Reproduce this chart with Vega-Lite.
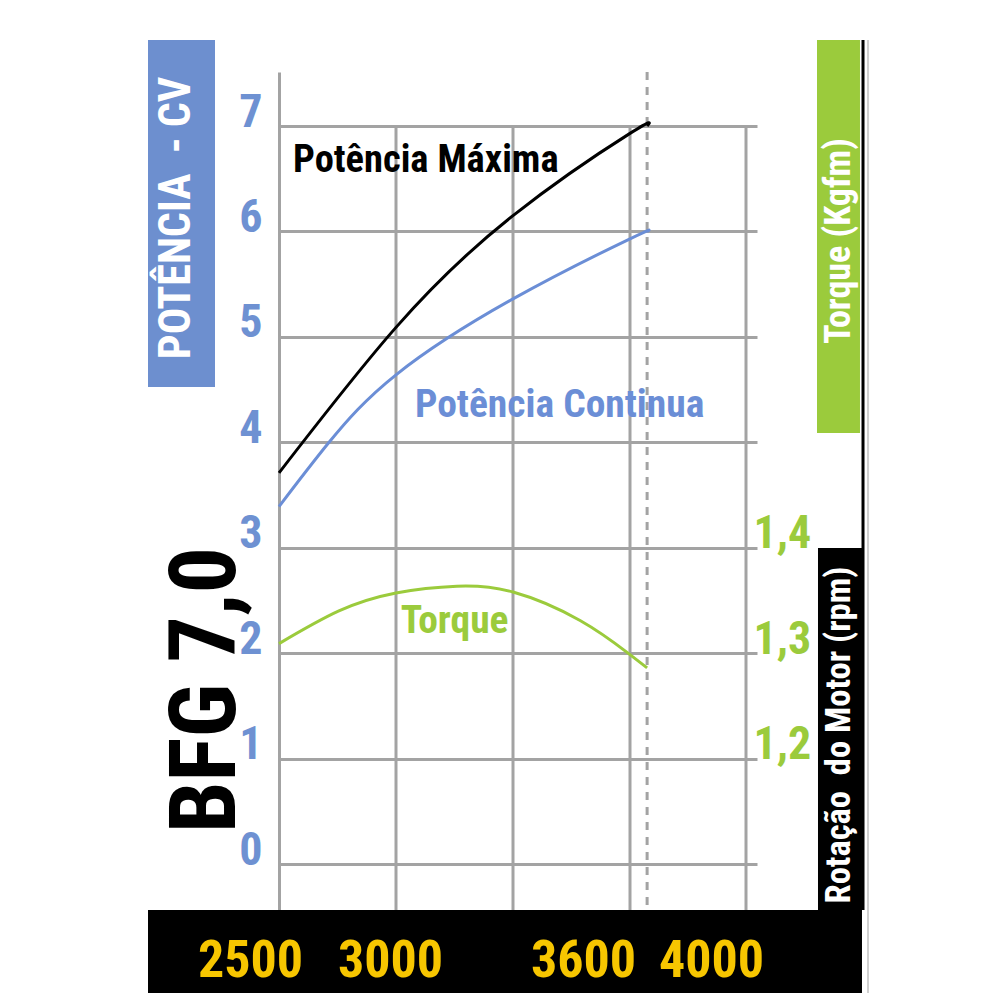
{
  "$schema": "https://vega.github.io/schema/vega-lite/v6.json",
  "width": 478,
  "height": 838,
  "autosize": "none",
  "padding": {"left": 279, "top": 72, "right": 243, "bottom": 90},
  "background": "white",
  "config": {
    "view": {"stroke": null},
    "font": "Roboto Condensed, Liberation Sans, sans-serif",
    "text": {"font": "Roboto Condensed, Liberation Sans, sans-serif", "fontWeight": "bold"}
  },
  "datasets": {
    "power": [
      {"rpm": 2500, "cv": 3.71, "serie": "Potência Máxima"},
      {"rpm": 3000, "cv": 5.09, "serie": "Potência Máxima"},
      {"rpm": 3300, "cv": 6.15, "serie": "Potência Máxima"},
      {"rpm": 3600, "cv": 6.93, "serie": "Potência Máxima"},
      {"rpm": 3659, "cv": 7.0, "serie": "Potência Máxima"},
      {"rpm": 2500, "cv": 3.39, "serie": "Potência Continua"},
      {"rpm": 2714, "cv": 4.0, "serie": "Potência Continua"},
      {"rpm": 3000, "cv": 4.64, "serie": "Potência Continua"},
      {"rpm": 3300, "cv": 5.36, "serie": "Potência Continua"},
      {"rpm": 3600, "cv": 5.93, "serie": "Potência Continua"},
      {"rpm": 3659, "cv": 6.0, "serie": "Potência Continua"}
    ],
    "torque": [
      {"rpm": 2500, "kgfm": 1.309},
      {"rpm": 2756, "kgfm": 1.34},
      {"rpm": 3000, "kgfm": 1.357},
      {"rpm": 3156, "kgfm": 1.3635},
      {"rpm": 3300, "kgfm": 1.358},
      {"rpm": 3472, "kgfm": 1.331},
      {"rpm": 3595, "kgfm": 1.3},
      {"rpm": 3659, "kgfm": 1.286}
    ],
    "grid": [
      {"rpm": 3000}, {"rpm": 3300}, {"rpm": 3600}, {"rpm": 4000}
    ]
  },
  "layer": [
    {
      "layer": [
        {
          "data": {"values": [{}]},
          "mark": {"type": "rect", "color": "#6d8fcf"},
          "encoding": {
            "x": {"datum": 1940.2, "type": "quantitative"},
            "x2": {"datum": 2226.5},
            "y": {"datum": 7.816, "type": "quantitative"},
            "y2": {"datum": 4.524}
          }
        },
        {
          "data": {"values": [{}]},
          "mark": {"type": "rect", "color": "#9bcb3c"},
          "encoding": {
            "x": {"datum": 4258.2, "type": "quantitative"},
            "x2": {"datum": 4414.5},
            "y": {"datum": 7.816, "type": "quantitative"},
            "y2": {"datum": 4.088}
          }
        },
        {
          "data": {"values": [{}]},
          "mark": {"type": "rect", "color": "#000000"},
          "encoding": {
            "x": {"datum": 4261.8, "type": "quantitative"},
            "x2": {"datum": 4421.8},
            "y": {"datum": 2.997, "type": "quantitative"},
            "y2": {"datum": -0.4363}
          }
        },
        {
          "data": {"values": [{}]},
          "mark": {"type": "rect", "color": "#000000"},
          "encoding": {
            "x": {"datum": 1940.2, "type": "quantitative"},
            "x2": {"datum": 4421.8},
            "y": {"datum": -0.4363, "type": "quantitative"},
            "y2": {"datum": -1.2236}
          }
        },
        {
          "data": {"values": [{}]},
          "mark": {"type": "rule", "color": "#d0d0d0", "strokeWidth": 2},
          "encoding": {
            "x": {"datum": 4443.6, "type": "quantitative"},
            "y": {"datum": 7.816, "type": "quantitative"},
            "y2": {"datum": -1.2236}
          }
        },
        {
          "data": {"values": [{}]},
          "mark": {"type": "rule", "color": "#000000", "strokeWidth": 3},
          "encoding": {
            "x": {"datum": 4425.5, "type": "quantitative"},
            "y": {"datum": 7.816, "type": "quantitative"},
            "y2": {"datum": -0.4363}
          }
        },
        {
          "data": {"name": "grid"},
          "mark": {"type": "rule", "color": "#a3a3a3", "strokeWidth": 3},
          "encoding": {
            "x": {"field": "rpm", "type": "quantitative"},
            "y": {"datum": 7, "type": "quantitative"},
            "y2": {"datum": -0.4363}
          }
        },
        {
          "data": {"values": [{}]},
          "mark": {"type": "rule", "color": "#a3a3a3", "strokeWidth": 3, "strokeDash": [8, 7]},
          "encoding": {
            "x": {"datum": 3659, "type": "quantitative"},
            "y": {"datum": 7.5122, "type": "quantitative"},
            "y2": {"datum": -0.4363}
          }
        },
        {
          "data": {"name": "power"},
          "mark": {"type": "line", "interpolate": "natural", "strokeWidth": 3},
          "encoding": {
            "x": {
              "field": "rpm", "type": "quantitative",
              "scale": {"domain": [2500, 3000, 3600, 4000, 4040], "range": [0, 117, 351, 467, 478], "zero": false, "nice": false},
              "axis": {
                "values": [2500, 3000, 3600, 4000],
                "zindex": 2,
                "title": null, "grid": false, "domain": false, "ticks": false, "tickSize": 0,
                "labelColor": "#f7c600", "labelFontSize": 52, "labelFontWeight": "bold",
                "labelFont": "Roboto Condensed, Liberation Sans, sans-serif",
                "labelBaseline": "alphabetic", "labelPadding": 66, "labelAlign": "center",
                "labelFlush": false, "labelOverlap": false, "format": "d",
                "labelOffset": {"condition": [
                  {"test": "datum.value == 2500", "value": -29},
                  {"test": "datum.value == 3000", "value": -6},
                  {"test": "datum.value == 3600", "value": -47}
                ], "value": -35}
              }
            },
            "y": {
              "field": "cv", "type": "quantitative",
              "scale": {"domain": [-0.4363, 7.5122], "zero": false, "nice": false},
              "axis": {
                "orient": "left",
                "values": [0, 1, 2, 3, 4, 5, 6, 7],
                "title": null, "format": "d",
                "grid": true, "gridColor": "#a3a3a3", "gridWidth": 3,
                "domain": true, "domainColor": "#a3a3a3", "domainWidth": 3,
                "ticks": false, "tickSize": 0,
                "labelColor": "#6e91d2", "labelFontSize": 46, "labelFontWeight": "bold",
                "labelFont": "Roboto Condensed, Liberation Sans, sans-serif",
                "labelBaseline": "alphabetic", "labelPadding": 17, "labelAlign": "right",
                "labelFlush": false, "labelOverlap": false
              }
            },
            "color": {
              "field": "serie", "type": "nominal",
              "scale": {"domain": ["Potência Máxima", "Potência Continua"], "range": ["#000000", "#6b8ed6"]},
              "legend": null
            }
          }
        },
        {
          "data": {"values": [{}]},
          "mark": {"type": "text", "text": "Potência Máxima", "fontSize": 38.5, "color": "#000000", "align": "left", "baseline": "alphabetic"},
          "encoding": {
            "x": {"datum": 2559.8, "type": "quantitative"},
            "y": {"datum": 6.564, "type": "quantitative"}
          }
        },
        {
          "data": {"values": [{}]},
          "mark": {"type": "text", "text": "Potência Continua", "fontSize": 39.5, "color": "#6b8ed6", "align": "left", "baseline": "alphabetic"},
          "encoding": {
            "x": {"datum": 3048.7, "type": "quantitative"},
            "y": {"datum": 4.24, "type": "quantitative"}
          }
        },
        {
          "data": {"values": [{}]},
          "mark": {"type": "text", "text": "Torque", "fontSize": 39.5, "color": "#9bcb3c", "align": "left", "baseline": "alphabetic"},
          "encoding": {
            "x": {"datum": 3012, "type": "quantitative"},
            "y": {"datum": 2.191, "type": "quantitative"}
          }
        },
        {
          "data": {"values": [{}]},
          "mark": {"type": "text", "text": "POTÊNCIA\u00a0 - CV", "fontSize": 44, "color": "#ffffff", "angle": 270, "align": "center", "baseline": "middle"},
          "encoding": {
            "x": {"datum": 2064, "type": "quantitative"},
            "y": {"datum": 6.127, "type": "quantitative"}
          }
        },
        {
          "data": {"values": [{}]},
          "mark": {"type": "text", "text": "Torque (Kgfm)", "fontSize": 36, "color": "#ffffff", "angle": 270, "align": "center", "baseline": "middle"},
          "encoding": {
            "x": {"datum": 4338.2, "type": "quantitative"},
            "y": {"datum": 5.909, "type": "quantitative"}
          }
        },
        {
          "data": {"values": [{}]},
          "mark": {"type": "text", "text": "Rotação\u00a0 do Motor (rpm)", "fontSize": 34.5, "color": "#ffffff", "angle": 270, "align": "center", "baseline": "middle"},
          "encoding": {
            "x": {"datum": 4341.8, "type": "quantitative"},
            "y": {"datum": 1.2236, "type": "quantitative"}
          }
        },
        {
          "data": {"values": [{}]},
          "mark": {"type": "text", "text": "BFG 7,0", "fontSize": 92, "color": "#000000", "angle": 270, "align": "center", "baseline": "middle"},
          "encoding": {
            "x": {"datum": 2192.3, "type": "quantitative"},
            "y": {"datum": 1.65, "type": "quantitative"}
          }
        }
      ]
    },
    {
      "data": {"name": "torque"},
      "mark": {"type": "line", "interpolate": "natural", "strokeWidth": 3, "color": "#9bcb3c"},
      "encoding": {
        "x": {"field": "rpm", "type": "quantitative"},
        "y": {
          "field": "kgfm", "type": "quantitative",
          "scale": {"domain": [1.05637, 1.85122], "zero": false, "nice": false},
          "axis": {
            "orient": "right",
            "values": [1.2, 1.3, 1.4],
            "title": null,
            "labelExpr": "replace(format(datum.value, '.1f'), '.', ',')",
            "grid": false, "domain": false, "ticks": false, "tickSize": 0,
            "labelColor": "#9bcb3c", "labelFontSize": 46, "labelFontWeight": "bold",
            "labelFont": "Roboto Condensed, Liberation Sans, sans-serif",
            "labelBaseline": "alphabetic", "labelPadding": -4, "labelAlign": "left",
            "labelFlush": false, "labelOverlap": false
          }
        }
      }
    }
  ],
  "resolve": {"scale": {"y": "independent"}}
}
